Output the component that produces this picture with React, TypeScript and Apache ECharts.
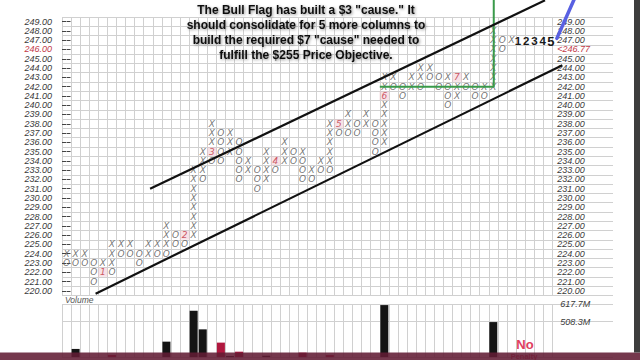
import React, { useEffect, useRef } from 'react';
import * as echarts from 'echarts';

// ---------- data ----------
const priceLabels = [
  '220.00', '221.00', '222.00', '223.00', '224.00', '225.00', '226.00', '227.00', '228.00', '229.00',
  '230.00', '231.00', '232.00', '233.00', '234.00', '235.00', '236.00', '237.00', '238.00', '239.00',
  '240.00', '241.00', '242.00', '243.00', '244.00', '245.00', '246.00', '247.00', '248.00', '249.00',
];
const highlightedLevel = '246.00';
const lastPriceLabel = '<246.77';

// [column, price]
const xMarks: [number, number][] = [
  [0, 224], [1, 224], [2, 224], [4, 223], [5, 223], [5, 224], [5, 225], [6, 225], [7, 225],
  [9, 224], [9, 225], [10, 225], [11, 225], [11, 226], [11, 227],
  [14, 226], [14, 227], [14, 228], [14, 229], [14, 230], [14, 231], [14, 232], [14, 233],
  [15, 233], [15, 234], [15, 235], [16, 236], [16, 237], [16, 238],
  [18, 235], [18, 236], [18, 237], [20, 233], [20, 234],
  [22, 232], [22, 233], [22, 234], [22, 235], [24, 234], [24, 235], [24, 236],
  [26, 235], [27, 233], [28, 234], [29, 234], [29, 235], [29, 236], [29, 237], [29, 238],
  [31, 238], [31, 239], [33, 238], [33, 239],
  [35, 236], [35, 237], [35, 238], [35, 239], [35, 240], [35, 242], [35, 243],
  [36, 243], [38, 242], [38, 243], [39, 243], [39, 244], [40, 244], [42, 243],
  [43, 241], [43, 242], [44, 243], [46, 242],
  [47, 242], [47, 243], [47, 244], [47, 245], [47, 246], [47, 247], [47, 248], [49, 247],
];
const oMarks: [number, number][] = [
  [0, 223], [1, 223], [2, 223], [3, 223], [3, 222], [3, 221], [5, 222], [6, 224], [7, 224],
  [8, 224], [8, 223], [10, 224], [11, 224], [12, 226], [12, 225], [13, 225], [15, 232], [16, 234],
  [17, 237], [17, 236], [17, 235], [17, 234], [19, 236], [19, 235], [19, 234], [19, 233], [19, 232],
  [21, 233], [21, 232], [21, 231], [23, 233], [25, 235], [25, 234], [26, 234], [26, 233], [26, 232],
  [27, 232], [28, 233], [29, 233], [30, 237], [31, 237], [32, 238], [32, 237],
  [34, 238], [34, 237], [34, 236], [34, 235], [36, 242], [37, 242], [37, 241], [39, 242],
  [40, 243], [41, 243], [41, 242], [42, 242], [42, 241], [42, 240], [44, 242], [45, 242], [45, 241],
  [46, 241], [48, 247], [48, 246],
];
// month markers: column, price, month number
const monthCols = [4, 13, 16, 23, 30, 35, 43];
const monthPrices = [222, 226, 235, 234, 238, 241, 243];
const monthNames = ['1', '2', '3', '4', '5', '6', '7'];

// drawn annotations, in [column, price]
const upperChannel: [number, number][] = [[9.2, 231.0], [52.7, 251.3]];
const lowerChannel: [number, number][] = [[3.2, 219.7], [54.6, 244.3]];
const flagOutline: [number, number][] = [[34.5, 242], [47.05, 242], [47.05, 251.5]];
const penStroke: [number, number][] = [[54.0, 247.2], [55.95, 251.5]];

// volume (millions)
const volumeCols = [1, 5, 11, 14, 15, 17, 18, 19, 22, 26, 29, 35, 47];
const volumeValues = [340, 303, 385, 576, 461, 379, 296, 323, 298, 317, 302, 611, 506];
const volumeDirection = ['up', 'down', 'up', 'up', 'up', 'down', 'up', 'down', 'up', 'down', 'down', 'up', 'up'];
const volumeAxisMin = 289.5;
const volumeAxisMax = 617.7;
const volumeStep = 218.8;

const noteLines = [
  'The Bull Flag has built a $3 "cause." It',
  'should consolidate for 5 more columns to',
  'build the required $7 "cause" needed to',
  'fulfill the $255 Price Objective.',
];
const countLabels = ['1', '2', '3', '4', '5'];

// ---------- layout ----------
const PL = 62;
const PT = 17;
const PH = 278.5;
const COLW = 9.08;
const NCOL = 54;
const WIDE_W = 551;
const NARROW_W = NCOL * COLW;
const VT = 304;
const VH = 53.1;

const axisFont = {
  fontFamily: 'Liberation Sans', fontStyle: 'italic' as const, fontSize: 9, lineHeight: 9, color: '#3a3a3a',
};
const gridLine = { color: '#d0d0d0', width: 1 };

export default function App() {
  const ref = useRef<HTMLDivElement>(null);
  useEffect(() => {
    if (!ref.current) return;
    const chart = echarts.init(ref.current, undefined, { renderer: 'svg' });

    const symbolLabel = (txt: string) => ({
      show: true,
      position: 'inside' as const,
      formatter: txt,
      fontFamily: 'DejaVu Sans',
      fontStyle: 'italic' as const,
      fontSize: 9,
      lineHeight: 9,
      color: '#505050',
    });

    const wideX = { type: 'value' as const, min: -0.5, max: -0.5 + WIDE_W / COLW, show: false };
    const narrowX = {
      type: 'value' as const, min: -0.5, max: NCOL - 0.5, interval: 1,
      axisLine: { show: false }, axisTick: { show: false }, axisLabel: { show: false },
      splitLine: { show: true, lineStyle: gridLine },
    };

    const option: any = {
      animation: false,
      backgroundColor: '#ffffff',
      grid: [
        { left: PL, top: PT, width: WIDE_W, height: PH },
        { left: PL, top: PT, width: NARROW_W, height: PH },
        { left: PL, top: VT, width: WIDE_W, height: VH },
        { left: PL, top: VT, width: NARROW_W, height: VH },
      ],
      xAxis: [
        { gridIndex: 0, ...wideX },
        { gridIndex: 1, ...narrowX },
        { gridIndex: 2, ...wideX },
        { gridIndex: 3, ...narrowX },
      ],
      yAxis: [
        {
          gridIndex: 0, type: 'value', min: 219.5, max: 249.5, interval: 1, position: 'right',
          axisLine: { show: false }, axisTick: { show: false }, axisLabel: { show: false },
          splitLine: { show: true, lineStyle: gridLine },
        },
        {
          gridIndex: 0, type: 'category', data: priceLabels, position: 'left',
          axisLine: { show: false },
          axisTick: { show: true, inside: true, length: 4, alignWithLabel: true, lineStyle: { color: '#444' } },
          splitLine: { show: false },
          axisLabel: {
            ...axisFont, interval: 0, margin: 10,
            formatter: (v: string) => (v === highlightedLevel ? `{hl|${v}}` : v),
            rich: { hl: { ...axisFont, color: '#c23a4a' } },
          },
        },
        {
          gridIndex: 1, type: 'category', data: priceLabels, position: 'right',
          axisLine: { show: false },
          axisTick: { show: true, inside: false, length: 4, alignWithLabel: true, lineStyle: { color: '#444' } },
          splitLine: { show: false },
          axisLabel: {
            ...axisFont, interval: 0, margin: 5,
            formatter: (v: string) => (v === highlightedLevel ? `{hl|${lastPriceLabel}}` : v),
            rich: { hl: { ...axisFont, color: '#c23a4a' } },
          },
        },
        {
          gridIndex: 2, type: 'value', min: volumeAxisMin, max: volumeAxisMax, interval: volumeStep, position: 'left',
          axisLine: { show: false }, axisTick: { show: false }, axisLabel: { show: false },
          splitLine: { show: true, lineStyle: gridLine },
        },
        {
          gridIndex: 3, type: 'value', min: volumeAxisMin, max: volumeAxisMax, interval: volumeStep, position: 'right',
          axisLine: { show: false }, axisTick: { show: false }, splitLine: { show: false },
          axisLabel: {
            ...axisFont, margin: 8,
            formatter: (v: number) => (v > 400 ? `${v.toFixed(1)}M` : ''),
          },
        },
      ],
      series: [
        {
          type: 'scatter', xAxisIndex: 0, yAxisIndex: 0, data: xMarks, symbolSize: 1,
          itemStyle: { color: 'rgba(0,0,0,0)' }, label: symbolLabel('X'), silent: true, z: 3,
        },
        {
          type: 'scatter', xAxisIndex: 0, yAxisIndex: 0, data: oMarks, symbolSize: 1,
          itemStyle: { color: 'rgba(0,0,0,0)' }, label: symbolLabel('O'), silent: true, z: 3,
        },
        {
          type: 'scatter', xAxisIndex: 0, yAxisIndex: 0, symbolSize: 1, silent: true, z: 3,
          itemStyle: { color: 'rgba(0,0,0,0)' },
          data: monthCols.map((c, i) => ({ value: [c, monthPrices[i]], name: monthNames[i] })),
          label: {
            show: true, position: 'inside', formatter: '{b}',
            fontFamily: 'DejaVu Sans', fontStyle: 'italic', fontSize: 9, lineHeight: 9, color: '#c0303f',
            backgroundColor: 'rgba(236,190,198,0.55)', padding: [0, 2],
          },
        },
        {
          type: 'line', xAxisIndex: 0, yAxisIndex: 0, data: upperChannel, clip: false, symbol: 'none',
          lineStyle: { color: '#111', width: 2.2 }, silent: true, z: 6,
        },
        {
          type: 'line', xAxisIndex: 0, yAxisIndex: 0, data: lowerChannel, clip: false, symbol: 'none',
          lineStyle: { color: '#111', width: 2.2 }, silent: true, z: 6,
        },
        {
          type: 'line', xAxisIndex: 0, yAxisIndex: 0, data: flagOutline, clip: false, symbol: 'none',
          lineStyle: { color: '#3a9a4a', width: 2 }, silent: true, z: 5,
        },
        {
          type: 'line', xAxisIndex: 0, yAxisIndex: 0, data: penStroke, clip: false, symbol: 'none',
          lineStyle: { color: '#5860e2', width: 3.5, cap: 'round' }, silent: true, z: 6,
        },
        {
          type: 'bar', xAxisIndex: 2, yAxisIndex: 3, barWidth: 8, silent: true,
          data: volumeCols.map((c, i) => ({
            value: [c, volumeValues[i]],
            itemStyle: { color: volumeDirection[i] === 'up' ? '#141414' : '#b0183f' },
          })),
        },
      ],
      graphic: [
        {
          type: 'text', x: 306, y: 3, z: 50,
          style: {
            text: noteLines.join('\n'),
            fill: '#111', fontSize: 12, fontWeight: 'bold', fontFamily: 'Liberation Sans',
            textAlign: 'center', textVerticalAlign: 'top', align: 'center', verticalAlign: 'top',
            lineHeight: 14.8,
            textShadowColor: 'rgba(0,0,0,0.45)', textShadowBlur: 3, textShadowOffsetX: 1, textShadowOffsetY: 1,
          },
        },
        ...countLabels.map((t, i) => ({
          type: 'text', x: 518 + i * 8.2, y: 41, z: 50,
          style: {
            text: t, fill: '#1a1a1a', fontSize: i === countLabels.length - 1 ? 13 : 11.5, fontWeight: 'bold',
            fontFamily: 'Liberation Sans', textAlign: 'center', textVerticalAlign: 'middle',
            align: 'center', verticalAlign: 'middle',
          },
        })),
        {
          type: 'text', x: 65, y: 300, z: 50,
          style: {
            text: 'Volume', fill: '#555', fontSize: 8.5, fontStyle: 'italic', fontFamily: 'Liberation Sans',
            textVerticalAlign: 'middle', verticalAlign: 'middle',
          },
        },
        {
          type: 'text', x: 525, y: 344.5, z: 50,
          style: {
            text: 'No', fill: '#e0405e', fontSize: 13, fontWeight: 'bold', fontFamily: 'Liberation Sans',
            textAlign: 'center', textVerticalAlign: 'middle', align: 'center', verticalAlign: 'middle',
          },
        },
        {
          type: 'text', x: 524, y: 356.2, z: 50,
          style: {
            text: 'Penalty', fill: '#e0405e', fontSize: 7.5, fontWeight: 'bold', fontFamily: 'Liberation Sans',
            textAlign: 'center', textVerticalAlign: 'middle', align: 'center', verticalAlign: 'middle',
          },
        },
        {
          type: 'rect', z: 60, shape: { x: 0, y: 352.5, width: 640, height: 7.5 },
          style: { fill: 'rgba(98,28,52,0.88)' },
        },
        {
          type: 'rect', z: 60, shape: { x: 634, y: 0, width: 6, height: 352.5 },
          style: { fill: '#3d3d3d' },
        },
      ],
    };

    chart.setOption(option);
    return () => chart.dispose();
  }, []);

  return (
    <div
      ref={ref}
      style={{ position: 'fixed', left: 0, top: 0, width: 640, height: 360, background: '#fff' }}
    />
  );
}
